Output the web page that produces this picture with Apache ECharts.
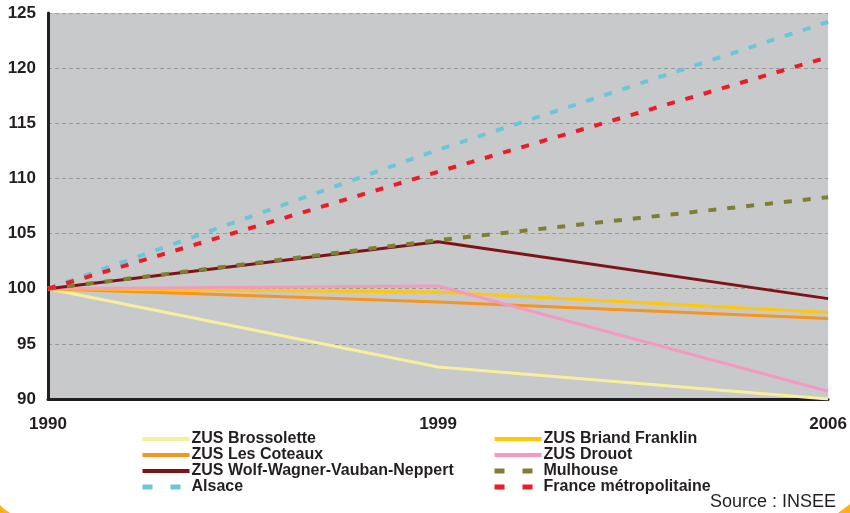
<!DOCTYPE html>
<html>
<head>
<meta charset="utf-8">
<script src="https://cdn.jsdelivr.net/npm/echarts@6/dist/echarts.min.js"></script>
<style>
  html, body { margin: 0; padding: 0; background: #ffffff; }
  #chart { width: 850px; height: 513px; }
</style>
</head>
<body>
<div id="chart"></div>
<script>
// Years on the horizontal axis
const years = ['1990', '1999', '2006'];

// Population index, base 100 in 1990
const brossolette    = [100, 92.9, 90.0];
const briandFranklin = [100, 99.7, 97.85];
const lesCoteaux     = [100, 98.8, 97.3];
const drouot         = [100, 100.25, 90.7];
const wolfWagner     = [100, 104.25, 99.1];
const mulhouse       = [100, 104.4, 108.3];
const alsace         = [100, 112.6, 124.2];
const france         = [100, 110.6, 121.0];

const FONT = '"Liberation Sans", Arial, Helvetica, sans-serif';
const TEXT = '#231f20';

function solid(name, data, color) {
  return {
    name, type: 'line', data, symbol: 'none', smooth: false,
    lineStyle: { color, width: 3, type: 'solid' },
    itemStyle: { color },
    emphasis: { disabled: true }
  };
}
function dashed(name, data, color) {
  return {
    name, type: 'line', data, symbol: 'none', smooth: false,
    lineStyle: { color, width: 4, type: [8, 11], cap: 'butt' },
    itemStyle: { color },
    emphasis: { disabled: true }
  };
}

// Legend entries: dashed series get a short two-dash swatch
const solidKey = name => ({ name, lineStyle: { width: 4 } });
const dashKey = name => ({ name, lineStyle: { width: 5, type: [10, 18] } });

const legendText = { color: TEXT, fontFamily: FONT, fontWeight: 'bold', fontSize: 16, padding: [0, 0, 0, -3] };
const legendBase = {
  top: 426, orient: 'vertical', itemGap: 0,
  itemWidth: 47, itemHeight: 16.3,
  itemStyle: { opacity: 0 },
  textStyle: legendText, selectedMode: false
};

const chart = echarts.init(document.getElementById('chart'), null, { renderer: 'canvas' });
chart.setOption({
  animation: false,
  backgroundColor: '#ffffff',
  grid: {
    left: 48, right: 18, top: 13, bottom: 114,
    show: true, backgroundColor: '#c8c9cb', borderWidth: 0
  },
  xAxis: {
    type: 'category', data: years, boundaryGap: false,
    axisLine: { show: true, onZero: false, lineStyle: { color: '#231f20', width: 3 } },
    axisTick: { show: false },
    splitLine: { show: false },
    axisLabel: { color: TEXT, fontFamily: FONT, fontWeight: 'bold', fontSize: 17, margin: 17 }
  },
  yAxis: {
    type: 'value', min: 90, max: 125, interval: 5,
    axisLine: { show: true, lineStyle: { color: '#231f20', width: 3 } },
    axisTick: { show: false },
    splitLine: { show: true, lineStyle: { color: '#9c9c9c', width: 1, type: [4, 3] } },
    axisLabel: { color: TEXT, fontFamily: FONT, fontWeight: 'bold', fontSize: 17, margin: 12 }
  },
  legend: [
    Object.assign({}, legendBase, {
      left: 135,
      data: [
        solidKey('ZUS Brossolette'),
        solidKey('ZUS Les Coteaux'),
        solidKey('ZUS Wolf-Wagner-Vauban-Neppert'),
        dashKey('Alsace')
      ]
    }),
    Object.assign({}, legendBase, {
      left: 487,
      data: [
        solidKey('ZUS Briand Franklin'),
        solidKey('ZUS Drouot'),
        dashKey('Mulhouse'),
        dashKey('France métropolitaine')
      ]
    })
  ],
  series: [
    solid('ZUS Brossolette', brossolette, '#f7ef9e'),
    solid('ZUS Les Coteaux', lesCoteaux, '#f7941d'),
    solid('ZUS Briand Franklin', briandFranklin, '#ffc70a'),
    solid('ZUS Drouot', drouot, '#f49ac1'),
    solid('ZUS Wolf-Wagner-Vauban-Neppert', wolfWagner, '#7d1417'),
    dashed('Mulhouse', mulhouse, '#7f7f33'),
    dashed('Alsace', alsace, '#6cc6d9'),
    dashed('France métropolitaine', france, '#ed1c24')
  ],
  graphic: [
    {
      type: 'text', right: 14, top: 493,
      style: { text: 'Source : INSEE', fill: TEXT, font: '18px ' + FONT }
    },
    {
      type: 'polygon',
      shape: { points: [[0, 505], [4, 509], [10, 513], [0, 513]] },
      style: { fill: '#fbb117' }
    },
    {
      type: 'polygon',
      shape: { points: [[838, 513], [850, 504], [850, 513]] },
      style: { fill: '#fbb117' }
    }
  ]
});
</script>
</body>
</html>
